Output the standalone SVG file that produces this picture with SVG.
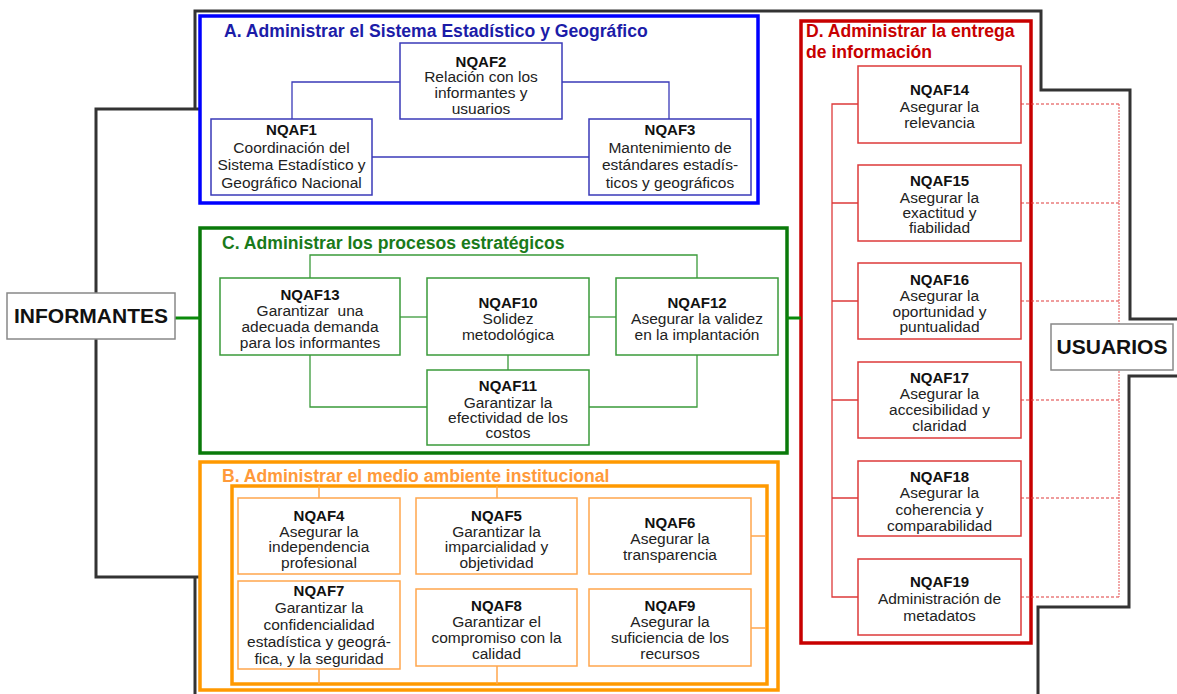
<svg xmlns="http://www.w3.org/2000/svg" width="1177" height="694" viewBox="0 0 1177 694">
  <defs>
    <style>
      text { font-family: "Liberation Sans", Arial, sans-serif; text-anchor: middle; }
      .t { font-size: 15px; font-weight: bold; fill: #111; }
      .b { font-size: 15.5px; fill: #222; }
      .gt { font-size: 17.6px; font-weight: bold; text-anchor: start; }
      .ext { font-size: 21px; font-weight: bold; fill: #111; }
      .outline { fill: none; stroke: #333; stroke-width: 3; }
      .extbox { fill: #fff; stroke: #888; stroke-width: 1.5; }
      .gA { fill: none; stroke: #0000ff; stroke-width: 3.5; }
      .gB { fill: none; stroke: #ff9900; stroke-width: 3.5; }
      .gC { fill: none; stroke: #0a7a0a; stroke-width: 3.5; }
      .gD { fill: none; stroke: #c80000; stroke-width: 3.5; }
      .nA { fill: #fff; stroke: #3a3ab8; stroke-width: 1.5; }
      .nB { fill: #fff; stroke: #ffa64d; stroke-width: 1.5; }
      .nC { fill: #fff; stroke: #3a9a3a; stroke-width: 1.5; }
      .nD { fill: #fff; stroke: #dd3a3a; stroke-width: 1.5; }
      .cA { fill: none; stroke: #3a3ab8; stroke-width: 1.3; }
      .cB { fill: none; stroke: #ffa64d; stroke-width: 1.5; }
      .cC { fill: none; stroke: #3a9a3a; stroke-width: 1.3; }
      .cD { fill: none; stroke: #dd3a3a; stroke-width: 1.3; }
      .cDd { fill: none; stroke: #e03a3a; stroke-width: 1.2; stroke-dasharray: 3 2; }
      .cDv { fill: none; stroke: #e87070; stroke-width: 1.2; stroke-dasharray: 2 1; }
      .link { fill: none; stroke: #0a8a0a; stroke-width: 3; }
    </style>
  </defs>

  <!-- system boundary -->
  <g id="boundary">
    <path class="outline" d="M200,109 H96 V577 H200"/>
    <path class="outline" d="M195,109 V11 H1041 V90 H1130 V319 H1177"/>
    <path class="outline" d="M1177,376 H1129 V607 H1038 V694"/>
    <path class="outline" d="M195,577 V694"/>
  </g>

  <!-- group frames -->
  <g id="group-A">
    <rect class="gA" x="200" y="16" width="558" height="187"/>
    <text class="gt" x="224" y="37" fill="#1c1ca8">A. Administrar el Sistema Estadístico y Geográfico</text>
  </g>
  <g id="group-C">
    <rect class="gC" x="200" y="228" width="587" height="225"/>
    <text class="gt" x="222" y="249" fill="#1a7a1a">C. Administrar los procesos estratégicos</text>
  </g>
  <g id="group-B">
    <rect class="gB" x="200" y="462" width="578" height="228"/>
    <rect class="gB" x="232" y="486" width="535" height="198"/>
    <text class="gt" x="222" y="482" fill="#ff9a3a">B. Administrar el medio ambiente institucional</text>
  </g>
  <g id="group-D">
    <rect class="gD" x="801" y="21" width="230" height="622"/>
    <text class="gt" x="806" y="37" fill="#c80000">D. Administrar la entrega</text>
    <text class="gt" x="806" y="58" fill="#c80000">de información</text>
  </g>

  <!-- connectors -->
  <g id="connectors">
    <path class="link" d="M175,318 H200"/>
    <path class="link" d="M787,318 H801"/>
    <!-- A -->
    <path class="cA" d="M292,119 V82 H400"/>
    <path class="cA" d="M562,82 H669 V119"/>
    <path class="cA" d="M372,157 H589"/>
    <!-- C -->
    <path class="cC" d="M310,278 V255 H697 V278"/>
    <path class="cC" d="M400,317 H427"/>
    <path class="cC" d="M589,317 H616"/>
    <path class="cC" d="M508,355 V370"/>
    <path class="cC" d="M310,355 V407 H427"/>
    <path class="cC" d="M589,407 H697 V355"/>
    <!-- B -->
    <path class="cB" d="M319,486 V498"/>
    <path class="cB" d="M497,486 V498"/>
    <path class="cB" d="M319,669 V684"/>
    <path class="cB" d="M497,666 V684"/>
    <path class="cB" d="M751,536 H766"/>
    <path class="cB" d="M751,628 H766"/>
    <!-- D -->
    <path class="cD" d="M858,104 H832 V597 H858"/>
    <path class="cD" d="M832,203 H858 M832,301 H858 M832,400 H858 M832,498 H858"/>
    <path class="cDd" d="M1021,104 H1119 M1021,203 H1119 M1021,301 H1119 M1021,400 H1119 M1021,498 H1119 M1021,597 H1119"/>
    <path class="cDv" d="M1119,104 V597"/>
  </g>

  <!-- external actors -->
  <g id="informantes">
    <rect class="extbox" x="7" y="293" width="168" height="46"/>
    <text class="ext" x="91" y="323">INFORMANTES</text>
  </g>
  <g id="usuarios">
    <rect class="extbox" x="1051" y="324" width="122" height="46"/>
    <text class="ext" x="1112" y="354">USUARIOS</text>
  </g>

  <!-- A nodes -->
  <g id="nqaf1">
    <rect class="nA" x="211" y="119" width="161" height="76"/>
    <text class="t" x="291.5" y="135">NQAF1</text>
    <text class="b" x="291.5" y="152.5">Coordinación del</text>
    <text class="b" x="291.5" y="170">Sistema Estadístico y</text>
    <text class="b" x="291.5" y="187.5">Geográfico Nacional</text>
  </g>
  <g id="nqaf2">
    <rect class="nA" x="400" y="43" width="162" height="76"/>
    <text class="t" x="481" y="67">NQAF2</text>
    <text class="b" x="481" y="82">Relación con los</text>
    <text class="b" x="481" y="98">informantes y</text>
    <text class="b" x="481" y="114">usuarios</text>
  </g>
  <g id="nqaf3">
    <rect class="nA" x="589" y="119" width="162" height="76"/>
    <text class="t" x="670" y="135">NQAF3</text>
    <text class="b" x="670" y="152.5">Mantenimiento de</text>
    <text class="b" x="670" y="170">estándares estadís-</text>
    <text class="b" x="670" y="187.5">ticos y geográficos</text>
  </g>

  <!-- C nodes -->
  <g id="nqaf13">
    <rect class="nC" x="220" y="278" width="180" height="77"/>
    <text class="t" x="310" y="300">NQAF13</text>
    <text class="b" x="310" y="316" xml:space="preserve">Garantizar  una</text>
    <text class="b" x="310" y="332">adecuada demanda</text>
    <text class="b" x="310" y="348">para los informantes</text>
  </g>
  <g id="nqaf10">
    <rect class="nC" x="427" y="278" width="162" height="77"/>
    <text class="t" x="508" y="308">NQAF10</text>
    <text class="b" x="508" y="324">Solidez</text>
    <text class="b" x="508" y="340">metodológica</text>
  </g>
  <g id="nqaf12">
    <rect class="nC" x="616" y="278" width="162" height="77"/>
    <text class="t" x="697" y="308">NQAF12</text>
    <text class="b" x="697" y="324">Asegurar la validez</text>
    <text class="b" x="697" y="340">en la implantación</text>
  </g>
  <g id="nqaf11">
    <rect class="nC" x="427" y="370" width="162" height="75"/>
    <text class="t" x="508" y="391">NQAF11</text>
    <text class="b" x="508" y="408">Garantizar la</text>
    <text class="b" x="508" y="423">efectividad de los</text>
    <text class="b" x="508" y="438">costos</text>
  </g>

  <!-- B nodes -->
  <g id="nqaf4">
    <rect class="nB" x="238" y="498" width="162" height="76"/>
    <text class="t" x="319" y="521">NQAF4</text>
    <text class="b" x="319" y="537">Asegurar la</text>
    <text class="b" x="319" y="552">independencia</text>
    <text class="b" x="319" y="568">profesional</text>
  </g>
  <g id="nqaf5">
    <rect class="nB" x="416" y="498" width="161" height="76"/>
    <text class="t" x="496.5" y="521">NQAF5</text>
    <text class="b" x="496.5" y="537">Garantizar la</text>
    <text class="b" x="496.5" y="552">imparcialidad y</text>
    <text class="b" x="496.5" y="568">objetividad</text>
  </g>
  <g id="nqaf6">
    <rect class="nB" x="589" y="498" width="162" height="76"/>
    <text class="t" x="670" y="528">NQAF6</text>
    <text class="b" x="670" y="544">Asegurar la</text>
    <text class="b" x="670" y="560">transparencia</text>
  </g>
  <g id="nqaf7">
    <rect class="nB" x="238" y="581" width="162" height="88"/>
    <text class="t" x="319" y="596">NQAF7</text>
    <text class="b" x="319" y="613">Garantizar la</text>
    <text class="b" x="319" y="630">confidencialidad</text>
    <text class="b" x="319" y="647">estadística y geográ-</text>
    <text class="b" x="319" y="664">fica, y la seguridad</text>
  </g>
  <g id="nqaf8">
    <rect class="nB" x="416" y="589" width="161" height="77"/>
    <text class="t" x="496.5" y="611">NQAF8</text>
    <text class="b" x="496.5" y="627">Garantizar el</text>
    <text class="b" x="496.5" y="643">compromiso con la</text>
    <text class="b" x="496.5" y="659">calidad</text>
  </g>
  <g id="nqaf9">
    <rect class="nB" x="589" y="589" width="162" height="77"/>
    <text class="t" x="670" y="611">NQAF9</text>
    <text class="b" x="670" y="627">Asegurar la</text>
    <text class="b" x="670" y="643">suficiencia de los</text>
    <text class="b" x="670" y="659">recursos</text>
  </g>

  <!-- D nodes -->
  <g id="nqaf14">
    <rect class="nD" x="858" y="66" width="163" height="77"/>
    <text class="t" x="939.5" y="95">NQAF14</text>
    <text class="b" x="939.5" y="112">Asegurar la</text>
    <text class="b" x="939.5" y="128">relevancia</text>
  </g>
  <g id="nqaf15">
    <rect class="nD" x="858" y="165" width="163" height="76"/>
    <text class="t" x="939.5" y="186">NQAF15</text>
    <text class="b" x="939.5" y="203">Asegurar la</text>
    <text class="b" x="939.5" y="218">exactitud y</text>
    <text class="b" x="939.5" y="233">fiabilidad</text>
  </g>
  <g id="nqaf16">
    <rect class="nD" x="858" y="263" width="163" height="76"/>
    <text class="t" x="939.5" y="285">NQAF16</text>
    <text class="b" x="939.5" y="301">Asegurar la</text>
    <text class="b" x="939.5" y="317">oportunidad y</text>
    <text class="b" x="939.5" y="332">puntualidad</text>
  </g>
  <g id="nqaf17">
    <rect class="nD" x="858" y="362" width="163" height="76"/>
    <text class="t" x="939.5" y="383">NQAF17</text>
    <text class="b" x="939.5" y="399">Asegurar la</text>
    <text class="b" x="939.5" y="415">accesibilidad y</text>
    <text class="b" x="939.5" y="431">claridad</text>
  </g>
  <g id="nqaf18">
    <rect class="nD" x="858" y="461" width="163" height="75"/>
    <text class="t" x="939.5" y="482">NQAF18</text>
    <text class="b" x="939.5" y="498">Asegurar la</text>
    <text class="b" x="939.5" y="515">coherencia y</text>
    <text class="b" x="939.5" y="531">comparabilidad</text>
  </g>
  <g id="nqaf19">
    <rect class="nD" x="858" y="559" width="163" height="76"/>
    <text class="t" x="939.5" y="587">NQAF19</text>
    <text class="b" x="939.5" y="604">Administración de</text>
    <text class="b" x="939.5" y="621">metadatos</text>
  </g>
</svg>
